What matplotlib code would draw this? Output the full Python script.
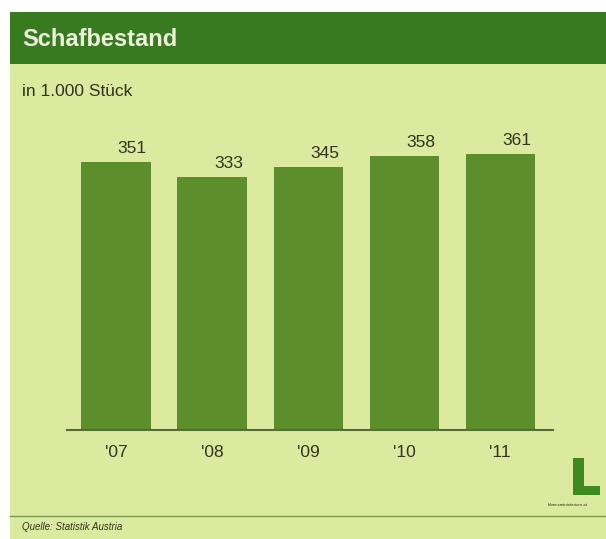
import matplotlib.pyplot as plt
from matplotlib.patches import Rectangle

years = ["'07", "'08", "'09", "'10", "'11"]
bestand = [351, 333, 345, 358, 361]

bg = "#dcea9f"
header = "#387a20"
bar_col = "#5c8e2c"
txt = "#33331f"

W, H = 606, 539
fig = plt.figure(figsize=(W / 100, H / 100), dpi=100)
fig.patch.set_facecolor("white")
plt.rcParams["font.family"] = ["Liberation Sans", "DejaVu Sans"]

def fx(px):
    return px / W

def fy(py):
    return 1 - py / H

# panel background and header band
fig.patches.append(Rectangle((fx(10), 0), 1 - fx(10), fy(12), transform=fig.transFigure,
                             facecolor=bg, edgecolor="none", zorder=-2))
fig.patches.append(Rectangle((fx(10), fy(64)), 1 - fx(10), fy(12) - fy(64), transform=fig.transFigure,
                             facecolor=header, edgecolor="none", zorder=-1))
fig.text(fx(22), fy(39), "Schafbestand", color="#eef3dc", fontsize=17, fontweight="bold", va="center")
fig.text(fx(22), fy(92), "in 1.000 Stück", color=txt, fontsize=12.5, va="center")

# chart area
ax = fig.add_axes([fx(67), fy(430), fx(553) - fx(67), fy(100) - fy(430)])
ax.set_zorder(3)
ax.set_facecolor("none")
x = list(range(len(years)))
ax.bar(x, bestand, width=0.72, color=bar_col, zorder=2)
ax.set_xlim(-0.51, 4.55)
ax.set_ylim(29, 29 + 330 / 0.832)
for xi, v in zip(x, bestand):
    ax.text(xi + 0.17, v + 16, str(v), ha="center", va="center", fontsize=12.5, color=txt)
ax.set_xticks(x)
ax.set_xticklabels(years, fontsize=12.5, color=txt)
ax.tick_params(axis="x", length=0, pad=11)
ax.set_yticks([])
for s in ["top", "right", "left"]:
    ax.spines[s].set_visible(False)
ax.spines["bottom"].set_color("#556b3a")
ax.spines["bottom"].set_linewidth(1.5)

# logo
fig.patches.append(Rectangle((fx(573), fy(495)), fx(11), fy(458) - fy(495), transform=fig.transFigure,
                             facecolor="#3f8a20", edgecolor="none"))
fig.patches.append(Rectangle((fx(573), fy(495)), fx(27), fy(486) - fy(495), transform=fig.transFigure,
                             facecolor="#3f8a20", edgecolor="none"))
fig.text(fx(568), fy(505), "lebensministerium.at", fontsize=3.2, color=txt, ha="center", va="center")

# footer
fig.add_artist(plt.Line2D([fx(10), 1], [fy(516), fy(516)], transform=fig.transFigure,
                          color="#7a9a50", linewidth=1))
fig.text(fx(22), fy(527), "Quelle: Statistik Austria", fontsize=7, style="italic", color=txt, va="center")

fig.savefig("out.png", dpi=100, facecolor=fig.get_facecolor())
